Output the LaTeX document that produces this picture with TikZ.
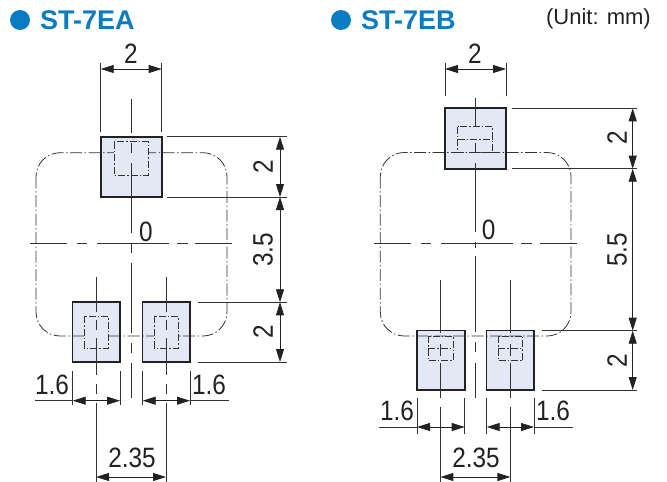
\documentclass[tikz,border=0pt]{standalone}
\usepackage{fontspec}
\setmainfont{Liberation Sans}
\usetikzlibrary{arrows.meta}
\definecolor{titleblue}{HTML}{0A7CC1}
\definecolor{boxfill}{HTML}{E2E9F5}
\definecolor{inkdark}{HTML}{222222}
\definecolor{inkline}{HTML}{333333}
\tikzset{
  padbox/.style={draw=inkdark,fill=boxfill,line width=1.7pt,inner sep=0pt,outer sep=0pt},
  thinline/.style={draw=inkline,line width=0.85pt},
  outlinecase/.style={draw=inkline,line width=0.8pt,dash pattern=on 12pt off 2.5pt on 1.5pt off 2.5pt,rounded corners=24pt},
  innerpat/.style={draw=inkline,line width=0.8pt,dash pattern=on 7pt off 2pt on 1.5pt off 2pt},
  dimarrow/.style={draw=inkdark,line width=0.85pt,{Triangle[length=13pt,width=8pt]}-{Triangle[length=13pt,width=8pt]}},
  dimnum/.style={inner sep=0pt,text=inkdark,font=\fontsize{28}{28}\selectfont,xscale=.87},
  dimnumrot/.style={inner sep=0pt,text=inkdark,font=\fontsize{28}{28}\selectfont,rotate=90,xscale=.87},
  titletext/.style={inner sep=0pt,anchor=base west,text=titleblue,font=\fontsize{27}{27}\selectfont\bfseries},
  dotmark/.style={fill=titleblue,draw=none},
  unittext/.style={inner sep=0pt,anchor=base east,text=inkdark,font=\fontsize{22}{22}\selectfont}
}
\begin{document}
\begin{tikzpicture}[x=1pt,y=-1pt]
\useasboundingbox (0,0) rectangle (667,482);
% titles
\fill[dotmark] (20,20) circle (10);
\node[titletext] (ta) at (40,29) {ST-7EA};
\fill[dotmark] (341,20) circle (10);
\node[titletext] (tb) at (361,29) {ST-7EB};
\node[unittext] (unit) at (651,24) {(Unit: mm)};

% ===== ST-7EA =====
\fill[boxfill] (100.7,136.7) rectangle (161.7,197);
\fill[boxfill] (72.5,302.3) rectangle (120.3,362);
\fill[boxfill] (142.5,302.3) rectangle (190.3,362);
\draw[outlinecase] (36,152.7) rectangle (227,336);
\fill[boxfill] (114,141.7) rectangle (148.3,175);
\fill[boxfill] (84.3,316.3) rectangle (108.3,348);
\fill[boxfill] (154.3,316.3) rectangle (178.3,348);
\draw[innerpat] (114,141.7) rectangle (148.3,175);
\draw[innerpat] (84.3,316.3) rectangle (108.3,348);
\draw[innerpat] (154.3,316.3) rectangle (178.3,348);
\draw[padbox,fill=none] (100.7,136.7) rectangle (161.7,197);
\draw[padbox,fill=none] (72.5,302.3) rectangle (120.3,362);
\draw[padbox,fill=none] (142.5,302.3) rectangle (190.3,362);
% centre lines
\draw[thinline] (30,243.7)--(67,243.7) (77,243.7)--(87,243.7) (97,243.7)--(169,243.7) (177,243.7)--(188,243.7) (195,243.7)--(232,243.7);
\draw[thinline] (131,99)--(131,133) (131,143)--(131,153) (131,163)--(131,233) (131,243)--(131,253) (131,263)--(131,333) (131,343)--(131,353) (131,363)--(131,398);
\draw[thinline] (96,277)--(96,312) (96,320)--(96,330) (96,338)--(96,375) (96,384)--(96,394) (96,403)--(96,482);
\draw[thinline] (166,277)--(166,312) (166,320)--(166,330) (166,338)--(166,375) (166,384)--(166,394) (166,403)--(166,482);
% extension lines
\draw[thinline] (100.7,63)--(100.7,132) (161.7,63)--(161.7,132);
\draw[thinline] (167,136.7)--(287,136.7) (167,197)--(287,197) (198,302.3)--(287,302.3) (198,362)--(287,362);
\draw[thinline] (72.7,371)--(72.7,405) (120,371)--(120,405) (142.7,371)--(142.7,405) (190,371)--(190,405);
\draw[thinline] (35,400.7)--(72.7,400.7) (190,400.7)--(229,400.7);
% dimension arrows
\coordinate (a1) at (100.7,69); \coordinate (a2) at (161.7,69);
\draw[dimarrow] (a1)--(a2);
\coordinate (a3) at (280,136.7); \coordinate (a4) at (280,197);
\coordinate (a5) at (280,302.3); \coordinate (a6) at (280,362);
\draw[dimarrow] (a3)--(a4);
\draw[dimarrow] (a4)--(a5);
\draw[dimarrow] (a5)--(a6);
\coordinate (a7) at (72.7,400.7); \coordinate (a8) at (120,400.7);
\coordinate (a9) at (142.7,400.7); \coordinate (a10) at (190,400.7);
\draw[dimarrow] (a7)--(a8);
\draw[dimarrow] (a9)--(a10);
\coordinate (a11) at (96,477); \coordinate (a12) at (166,477);
\draw[dimarrow] (a11)--(a12);
% labels
\node[dimnum] (la1) at (131,54) {2};
\node[dimnum] (la2) at (146,232) {0};
\node[dimnumrot] (la3) at (263,167) {2};
\node[dimnumrot] (la4) at (263,250) {3.5};
\node[dimnumrot] (la5) at (263,332) {2};
\node[dimnum] (la6) at (52,385) {1.6};
\node[dimnum] (la7) at (209,385) {1.6};
\node[dimnum] (la8) at (132,458) {2.35};

% ===== ST-7EB =====
\fill[boxfill] (445,108.3) rectangle (506,168.7);
\fill[boxfill] (416.7,330.5) rectangle (464.7,390);
\fill[boxfill] (486.5,330.5) rectangle (534.3,390);
\draw[outlinecase] (380.3,152.5) rectangle (571,336);
\draw[innerpat] (457.5,126.7) rectangle (492.7,152.5);
\draw[innerpat] (457.5,139)--(492.7,139);
\draw[innerpat] (428.3,336) rectangle (453,360.7);
\draw[innerpat] (428.3,348.3)--(453,348.3);
\draw[innerpat] (498.3,336) rectangle (522.7,360.7);
\draw[innerpat] (498.3,348.3)--(522.7,348.3);
\draw[padbox,fill=none] (445,108.3) rectangle (506,168.7);
\draw[padbox,fill=none] (416.7,330.5) rectangle (464.7,390);
\draw[padbox,fill=none] (486.5,330.5) rectangle (534.3,390);
% centre lines
\draw[thinline] (374,243.7)--(411,243.7) (421,243.7)--(431,243.7) (441,243.7)--(513,243.7) (521,243.7)--(532,243.7) (540,243.7)--(577,243.7);
\draw[thinline] (475.4,98)--(475.4,127) (475.4,143)--(475.4,152) (475.4,163)--(475.4,232) (475.4,242)--(475.4,248) (475.4,256)--(475.4,332) (475.4,342)--(475.4,352) (475.4,363)--(475.4,398);
\draw[thinline] (440.4,280)--(440.4,333) (440.4,344)--(440.4,356) (440.4,363)--(440.4,398) (440.4,407)--(440.4,482);
\draw[thinline] (510.4,280)--(510.4,333) (510.4,344)--(510.4,356) (510.4,363)--(510.4,398) (510.4,407)--(510.4,482);
% extension lines
\draw[thinline] (445,63)--(445,95.7) (506,63)--(506,95.7);
\draw[thinline] (512,108.3)--(637,108.3) (512,168.7)--(637,168.7) (542,330.7)--(637,330.7) (542,390)--(637,390);
\draw[thinline] (417,398)--(417,434) (464.7,398)--(464.7,434) (486.7,398)--(486.7,434) (534,398)--(534,434);
\draw[thinline] (379,427)--(417,427) (534,427)--(573,427);
% dimension arrows
\coordinate (b1) at (445,69); \coordinate (b2) at (506,69);
\draw[dimarrow] (b1)--(b2);
\coordinate (b3) at (632.7,108.3); \coordinate (b4) at (632.7,168.7);
\coordinate (b5) at (632.7,330.7); \coordinate (b6) at (632.7,390);
\draw[dimarrow] (b3)--(b4);
\draw[dimarrow] (b4)--(b5);
\draw[dimarrow] (b5)--(b6);
\coordinate (b7) at (417,427); \coordinate (b8) at (464.7,427);
\coordinate (b9) at (486.7,427); \coordinate (b10) at (534,427);
\draw[dimarrow] (b7)--(b8);
\draw[dimarrow] (b9)--(b10);
\coordinate (b11) at (440.4,477); \coordinate (b12) at (510.4,477);
\draw[dimarrow] (b11)--(b12);
% labels
\node[dimnum] (lb1) at (475,54) {2};
\node[dimnum] (lb2) at (488.7,230) {0};
\node[dimnumrot] (lb3) at (617,138) {2};
\node[dimnumrot] (lb4) at (617,250) {5.5};
\node[dimnumrot] (lb5) at (617,361) {2};
\node[dimnum] (lb6) at (397,411) {1.6};
\node[dimnum] (lb7) at (553,411) {1.6};
\node[dimnum] (lb8) at (476,458) {2.35};
\end{tikzpicture}
\end{document}
